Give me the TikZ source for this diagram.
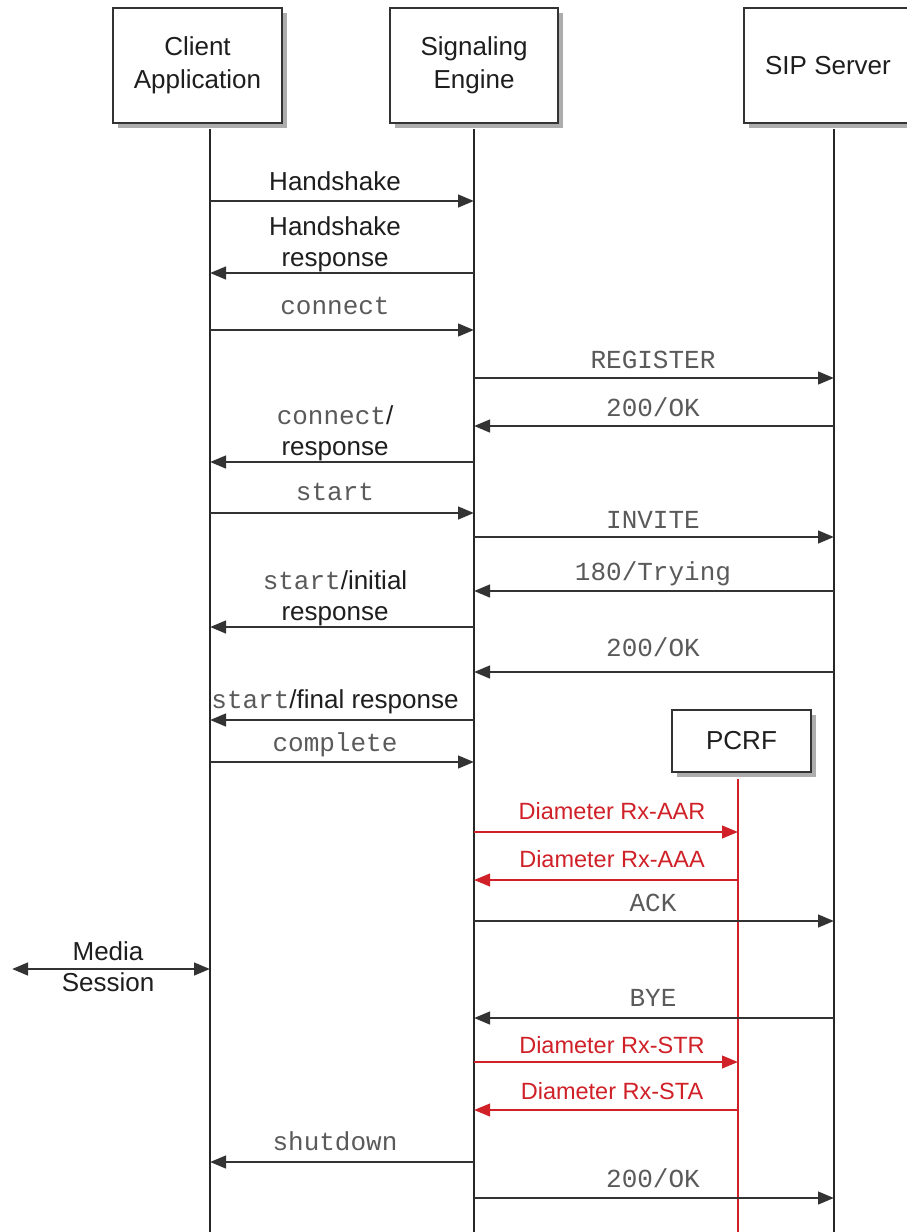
\documentclass[tikz,border=0pt]{standalone}
\usepackage{fontspec}
\setmainfont{Liberation Sans}
\setmonofont{Liberation Mono}
\usetikzlibrary{arrows.meta,shadows}
\definecolor{txt}{HTML}{1E1E1E}
\definecolor{monoc}{HTML}{5A5A5A}
\definecolor{redc}{RGB}{208,32,40}
\definecolor{framec}{HTML}{333333}
\newcommand\msgline[5][]{%
  \coordinate (#2a) at (#4 |- 0,#3);
  \coordinate (#2b) at (#5 |- 0,#3);
  \draw[arr,#1] (#2a) -- (#2b);}
\newcommand\mono[1]{{\ttfamily\color{monoc}#1}}
\begin{document}
\begin{tikzpicture}[x=1pt,y=-1pt,
  actor/.style={draw=framec,line width=2pt,fill=white,text=txt,align=center,
    font=\fontsize{26}{33}\selectfont,
    drop shadow={shadow xshift=4.5pt,shadow yshift=-4.5pt,fill=black!32,opacity=1}},
  life/.style={draw=black!85,line width=1.8pt},
  redlife/.style={draw=redc,line width=2pt},
  arr/.style={draw=black!80,line width=2.8pt,-{Triangle[length=16pt,width=12.5pt]}},
  redarr/.style={draw=redc,line width=2.4pt},
  biarr/.style={draw=black!80,line width=2.8pt,{Triangle[length=16pt,width=12.5pt]}-{Triangle[length=16pt,width=12.5pt]}},
  lbl/.style={anchor=base,inner sep=0pt,text=txt,align=center,font=\fontsize{26}{31}\selectfont},
  mlbl/.style={lbl,text=monoc,font=\fontsize{26}{31}\selectfont\ttfamily},
  rlbl/.style={anchor=base,inner sep=0pt,text=redc,font=\fontsize{23.5}{28}\selectfont}]
\useasboundingbox (0,0) rectangle (906,1232);
\fill[white] (0,0) rectangle (906,1232);

% lifeline x positions
\coordinate (xc) at (210,0);
\coordinate (xs) at (474,0);
\coordinate (xp) at (834,0);
\coordinate (xr) at (738,0);
\coordinate (bottom) at (0,1240);

% actors
\node[actor,minimum width=169pt,minimum height=115pt] (cli) at (197.5,65.5) {Client\\Application};
\node[actor,minimum width=168pt,minimum height=115pt] (sig) at (474,65.5) {Signaling\\Engine};
\node[actor,minimum width=168pt,minimum height=115pt] (sip) at (828,65.5) {SIP Server};
\node[actor,minimum width=139pt,minimum height=62pt] (pcrf) at (741.5,741) {PCRF};

% lifelines
\draw[life] ([yshift=-5pt]cli.south -| xc) -- (xc |- bottom);
\draw[life] ([yshift=-5pt]sig.south -| xs) -- (xs |- bottom);
\draw[life] ([yshift=-5pt]sip.south -| xp) -- (xp |- bottom);
\draw[redlife] ([yshift=-6pt]pcrf.south -| xr) -- (xr |- bottom);

% messages
\msgline{m1}{201}{xc}{xs}
\node[lbl] (t1) at (335,190) {Handshake};
\msgline{m2}{273}{xs}{xc}
\node[lbl] (t2) at (335,266) {Handshake\\response};
\msgline{m3}{330}{xc}{xs}
\node[mlbl] (t3) at (335,314) {connect};
\msgline{m4}{378}{xs}{xp}
\node[mlbl] (t4) at (653,368) {REGISTER};
\msgline{m5}{426}{xp}{xs}
\node[mlbl] (t5) at (653,416) {200/OK};
\msgline{m6}{462}{xs}{xc}
\node[lbl] (t6) at (335,455) {\mono{connect}/\\response};
\msgline{m7}{513}{xc}{xs}
\node[mlbl] (t7) at (335,500) {start};
\msgline{m8}{537}{xs}{xp}
\node[mlbl] (t8) at (653,528) {INVITE};
\msgline{m9}{591}{xp}{xs}
\node[mlbl] (t9) at (653,580) {180/Trying};
\msgline{m10}{627}{xs}{xc}
\node[lbl] (t10) at (335,620) {\mono{start}/initial\\response};
\msgline{m11}{672}{xp}{xs}
\node[mlbl] (t11) at (653,656) {200/OK};
\msgline{m12}{720}{xs}{xc}
\node[lbl] (t12) at (335,708) {\mono{start}/final response};
\msgline{m13}{762}{xc}{xs}
\node[mlbl] (t13) at (335,751) {complete};
\msgline[redarr]{m14}{832}{xs}{xr}
\node[rlbl] (t14) at (612,819) {Diameter Rx-AAR};
\msgline[redarr]{m15}{880}{xr}{xs}
\node[rlbl] (t15) at (612,867) {Diameter Rx-AAA};
\msgline{m16}{921}{xs}{xp}
\node[mlbl] (t16) at (653,911) {ACK};
\coordinate (mediaL) at (12,969);
\draw[biarr] (mediaL) -- (xc |- 0,969);
\node[lbl] (t17) at (108,991) {Media\\Session};
\msgline{m18}{1018}{xp}{xs}
\node[mlbl] (t18) at (653,1006) {BYE};
\msgline[redarr]{m19}{1062}{xs}{xr}
\node[rlbl] (t19) at (612,1053) {Diameter Rx-STR};
\msgline[redarr]{m20}{1110}{xr}{xs}
\node[rlbl] (t20) at (612,1099) {Diameter Rx-STA};
\msgline{m21}{1162}{xs}{xc}
\node[mlbl] (t21) at (335,1150) {shutdown};
\msgline{m22}{1198}{xs}{xp}
\node[mlbl] (t22) at (653,1187) {200/OK};
\end{tikzpicture}
\end{document}
